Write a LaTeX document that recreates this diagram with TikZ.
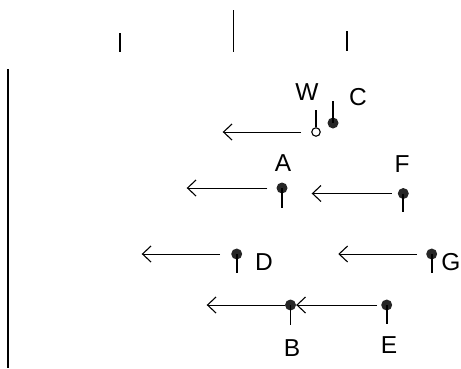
\documentclass[tikz,border=0pt]{standalone}
\usepackage{fontspec}
\setmainfont{Liberation Sans}
\usetikzlibrary{arrows.meta}
\begin{document}
\begin{tikzpicture}[x=1pt,y=-1pt,
  dot/.style={circle,fill=black!85,minimum size=11pt,inner sep=0pt},
  hollow/.style={circle,draw,line width=1.1pt,minimum size=8.5pt,inner sep=0pt,fill=white},
  stem/.style={line width=1.7pt},
  arr/.style={line width=1pt,-{Straight Barb[length=8.5pt,width=16pt,line width=1.1pt]}},
  lbl/.style={font=\fontsize{24.5}{24.5}\selectfont,inner sep=0pt},
  tick/.style={line width=1.4pt}]
\useasboundingbox (0,0) rectangle (461,368);
% scale ticks and left axis
\draw[tick] (120,33) -- (120,52);
\draw[tick] (233.5,10) -- (233.5,52);
\draw[tick] (347,31) -- (347,51);
\draw[line width=1.2pt] (8,69) -- (8,368);
% pins
\node[hollow] (W) at (316,132) {};
\draw[stem] (W.north) -- (316,110);
\node[dot] (C) at (333,123) {};
\draw[stem] (C.center) -- (333,101);
\node[dot] (A) at (282,188) {};
\draw[stem] (A.center) -- (282,208);
\node[dot] (F) at (403.3,193.5) {};
\draw[stem] (F.center) -- (403.3,212);
\node[dot] (D) at (236.7,254) {};
\draw[stem] (D.center) -- (236.7,273);
\node[dot] (G) at (431.7,254) {};
\draw[stem] (G.center) -- (431.7,273);
\node[dot] (B) at (290.5,305) {};
\draw[stem] (B.center) -- (290.5,325);
\node[dot] (E) at (386.7,305) {};
\draw[stem] (E.center) -- (386.7,324);
% labels
\node[lbl] (Wl) at (307,92) {W};
\node[lbl] (Cl) at (358,97) {C};
\node[lbl] (Al) at (283,163.5) {A};
\node[lbl] (Fl) at (402,164) {F};
\node[lbl] (Dl) at (264,262.5) {D};
\node[lbl] (Gl) at (451,262.5) {G};
\node[lbl] (Bl) at (292,348) {B};
\node[lbl] (El) at (389,345) {E};
% arrow tips
\coordinate (Wt) at (222.7,132);
\coordinate (At) at (186.7,188);
\coordinate (Ft) at (311.7,193.5);
\coordinate (Dt) at (141.7,254);
\coordinate (Gt) at (338.3,254);
\coordinate (Bt) at (206.7,305);
% arrows
\draw[arr,shorten <=10pt] (W) -- (Wt);
\draw[arr,shorten <=9pt] (A) -- (At);
\draw[arr,shorten <=6pt] (F) -- (Ft);
\draw[arr,shorten <=11pt] (D) -- (Dt);
\draw[arr,shorten <=9pt] (G) -- (Gt);
\draw[arr] (B) -- (Bt);
\draw[arr,shorten <=4pt] (E) -- (B);
\end{tikzpicture}
\end{document}
